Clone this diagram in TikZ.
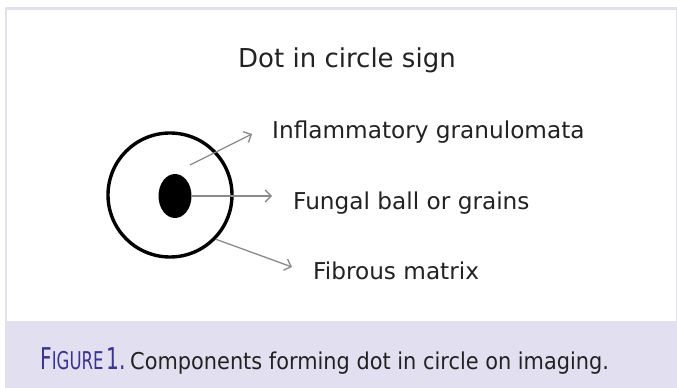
\documentclass[tikz,border=0pt]{standalone}
\usepackage{fontspec}
\setmainfont{DejaVu Sans}
\newfontfamily\capfont{DejaVu Sans}[FakeStretch=0.9]
\usepackage{graphicx}
\usetikzlibrary{arrows.meta,positioning,shapes.geometric}
\definecolor{framelav}{HTML}{E2E0F0}
\definecolor{capblue}{HTML}{3B3592}
\definecolor{txtgray}{HTML}{222222}
\definecolor{ptrgray}{HTML}{8A8A8A}
\tikzset{
  lbl/.style={anchor=base west,inner sep=0pt,text=txtgray,font=\fontsize{23.2}{26}\selectfont},
  ptr/.style={-{Straight Barb[length=6pt,width=12pt]},ptrgray,line width=1.3pt},
  ring/.style={draw,circle,line width=3.4pt,minimum size=124pt,inner sep=0pt},
  blob/.style={fill=black,ellipse,minimum width=33pt,minimum height=44pt,inner sep=0pt},
  captxt/.style={anchor=base west,inner sep=0pt,text=txtgray,font=\capfont\fontsize{23.2}{26}\selectfont},
}

\begin{document}
\begin{tikzpicture}[x=1pt,y=1pt]

  % frame and caption band
  \fill[white] (0,0) rectangle (677,388);
  \fill[framelav] (5,0) rectangle (677,381);
  \fill[white] (7,67) rectangle (676,378);
  \useasboundingbox (0,0) rectangle (677,388);

  \node[lbl,font=\fontsize{26}{29}\selectfont] (title) at (238,320) {Dot in circle sign};

  % the sign
  \node[ring] (outer) at (170,193) {};
  \node[blob] (inner) at (175,192) {};

  % labels
  \node[lbl] (granul) at (272,249) {Inflammatory granulomata};
  \node[lbl] (fungal) at (293,178) {Fungal ball or grains};
  \node[lbl] (fibro)  at (313,108) {Fibrous matrix};

  \coordinate (mid) at (190,223);
  \draw[ptr] (mid) -- ([xshift=-20pt,yshift=5pt]granul.base west);
  \draw[ptr] (inner.east) -- ([xshift=-21pt]inner.east -| fungal.west);
  \draw[ptr] (outer.-44) -- ([xshift=-21pt,yshift=13pt]fibro.base west);

  % caption
  \node[captxt,text=capblue] (capnum) at (40,18)
    {\scalebox{0.75}[1]{\fontsize{30}{33}\selectfont F\fontsize{24.5}{27}\selectfont IGURE\,\fontsize{30}{33}\selectfont 1.}};
  \node[captxt] (captext) at (130,18) {Components forming dot in circle on imaging.};

\end{tikzpicture}
\end{document}
